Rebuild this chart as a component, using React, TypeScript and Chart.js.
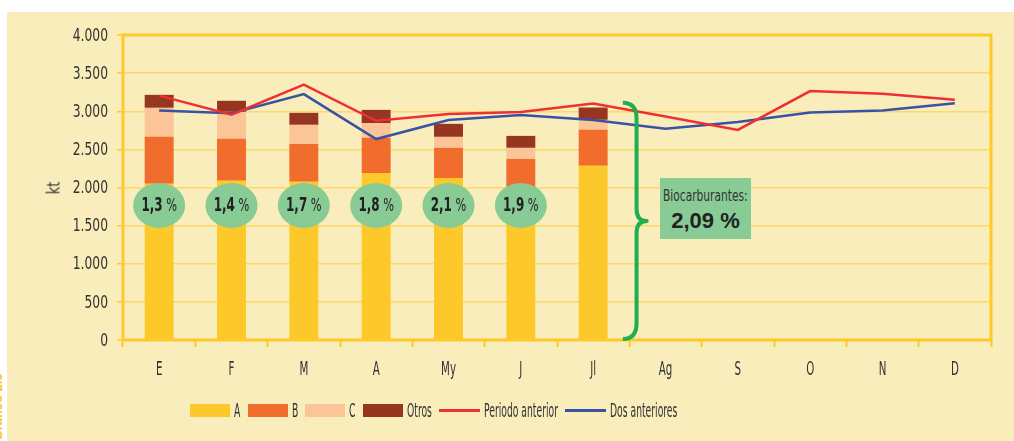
import React, { useEffect, useRef } from 'react';
import { Chart, registerables } from 'chart.js';

Chart.register(...registerables);

// ---------- data ----------
const months = ['E', 'F', 'M', 'A', 'My', 'J', 'Jl', 'Ag', 'S', 'O', 'N', 'D'];
const seriesA = [2050, 2090, 2075, 2190, 2125, 1980, 2285];
const seriesB = [614, 548, 497, 461, 395, 395, 471];
const seriesC = [381, 354, 250, 192, 144, 145, 131];
const seriesOtros = [170, 145, 157, 175, 171, 157, 162];
const periodoAnterior = [3205, 2955, 3350, 2875, 2965, 2990, 3100, 2930, 2755, 3265, 3230, 3150];
const dosAnteriores = [3010, 2975, 3225, 2635, 2885, 2950, 2885, 2770, 2860, 2985, 3010, 3105];
const biofuelShares = ['1,3', '1,4', '1,7', '1,8', '2,1', '1,9'];
const badgeValue = 1765;
const braceTopValue = 3110;
const yMin = 0;
const yMax = 4000;
const yStep = 500;
const yAxisTitle = 'kt';
const totalLabel = 'Biocarburantes:';
const totalShare = '2,09 %';

// ---------- styles ----------
const NARROW = "'DejaVu Sans Condensed', 'DejaVu Sans', sans-serif";
const colA = '#FDC92A';
const colB = '#F06D2D';
const colC = '#FCC597';
const colOtros = '#963520';
const colRed = '#EE3035';
const colBlue = '#3A52A3';
const frameCol = '#FFC92B';
const gridCol = '#FCD868';
const greenFill = '#88CB95';
const braceCol = '#1FAE50';
const textCol = '#333333';

const fmt = (v: number) => String(v).replace(/\B(?=(\d{3})+(?!\d))/g, '.');

const framePlugin = {
  id: 'frame',
  beforeDatasetsDraw(chart: any) {
    const { ctx, chartArea } = chart;
    const { left, top, right, bottom } = chartArea;
    ctx.save();
    ctx.strokeStyle = frameCol;
    ctx.lineWidth = 3;
    ctx.strokeRect(left, top, right - left, bottom - top);
    ctx.restore();
  },
};

const narrowText = (ctx: any, text: string, x: number, y: number, sx: number, font: string, align: string) => {
  ctx.save();
  ctx.translate(x, y);
  ctx.scale(sx, 1);
  ctx.font = font;
  ctx.textAlign = align;
  ctx.textBaseline = 'middle';
  ctx.fillText(text, 0, 0);
  ctx.restore();
};

const labelsPlugin = {
  id: 'narrowLabels',
  afterDraw(chart: any) {
    const { ctx, chartArea } = chart;
    const xs = chart.scales.x;
    const ys = chart.scales.y;
    ctx.save();
    ctx.fillStyle = textCol;
    ys.ticks.forEach((t: any) => {
      const y = ys.getPixelForValue(t.value);
      narrowText(ctx, fmt(t.value), chartArea.left - 15, y + 1, 0.76, `18px ${NARROW}`, 'right');
    });
    months.forEach((m, i) => {
      const x = xs.getPixelForValue(i);
      narrowText(ctx, m, x, chartArea.bottom + 30, 0.6, `19px ${NARROW}`, 'center');
    });
    ctx.restore();
  },
};

const annotPlugin = {
  id: 'annot',
  afterDatasetsDraw(chart: any) {
    const { ctx } = chart;
    const xs = chart.scales.x;
    const ys = chart.scales.y;
    ctx.save();
    // badges
    const cy = ys.getPixelForValue(badgeValue);
    const sx = 0.7;
    biofuelShares.forEach((s, i) => {
      const cx = xs.getPixelForValue(i);
      ctx.beginPath();
      ctx.ellipse(cx, cy, 26, 22.5, 0, 0, Math.PI * 2);
      ctx.fillStyle = greenFill;
      ctx.fill();
      ctx.fillStyle = '#222';
      const fb = `bold 19px ${NARROW}`;
      const fn = `18px ${NARROW}`;
      ctx.font = fb;
      const w1 = ctx.measureText(s).width * sx;
      ctx.font = fn;
      const w2 = ctx.measureText(' %').width * sx;
      const x0 = cx - (w1 + w2) / 2;
      narrowText(ctx, s, x0, cy + 1, sx, fb, 'left');
      narrowText(ctx, ' %', x0 + w1, cy + 1, sx, fn, 'left');
    });
    // brace
    const cw = xs.getPixelForValue(1) - xs.getPixelForValue(0);
    const base = xs.getPixelForValue(seriesA.length - 1);
    const x0 = base + 0.41 * cw;
    const xm = base + 0.6 * cw;
    const xt = base + 0.74 * cw;
    const yt = ys.getPixelForValue(braceTopValue);
    const yb = ys.getPixelForValue(0) - 1;
    const ym = (yt + yb) / 2;
    ctx.beginPath();
    ctx.moveTo(x0, yt);
    ctx.quadraticCurveTo(xm, yt, xm, yt + 16);
    ctx.lineTo(xm, ym - 12);
    ctx.quadraticCurveTo(xm, ym, xt, ym);
    ctx.quadraticCurveTo(xm, ym, xm, ym + 12);
    ctx.lineTo(xm, yb - 16);
    ctx.quadraticCurveTo(xm, yb, x0, yb);
    ctx.strokeStyle = braceCol;
    ctx.lineWidth = 4;
    ctx.lineJoin = 'round';
    ctx.stroke();
    ctx.restore();
  },
};

export default function App() {
  const ref = useRef<HTMLCanvasElement | null>(null);

  useEffect(() => {
    document.body.style.margin = '0';
    if (!ref.current) return;
    const chart = new Chart(ref.current, {
      type: 'bar',
      data: {
        labels: months,
        datasets: [
          { type: 'line', label: 'Periodo anterior', data: periodoAnterior, borderColor: colRed, backgroundColor: colRed, borderWidth: 2.5, pointRadius: 0, tension: 0, stack: 'l1', order: 0 } as any,
          { type: 'line', label: 'Dos anteriores', data: dosAnteriores, borderColor: colBlue, backgroundColor: colBlue, borderWidth: 2.5, pointRadius: 0, tension: 0, stack: 'l2', order: 0 } as any,
          { label: 'A', data: seriesA, backgroundColor: colA, stack: 's', order: 1 },
          { label: 'B', data: seriesB, backgroundColor: colB, stack: 's', order: 1 },
          { label: 'C', data: seriesC, backgroundColor: colC, stack: 's', order: 1 },
          { label: 'Otros', data: seriesOtros, backgroundColor: colOtros, stack: 's', order: 1 },
        ],
      },
      options: {
        responsive: false,
        animation: false,
        events: [],
        layout: { padding: { top: 23, right: 23, left: 0, bottom: 0 } },
        datasets: { bar: { barPercentage: 0.4, categoryPercentage: 1 } },
        plugins: { legend: { display: false }, tooltip: { enabled: false } },
        scales: {
          x: {
            stacked: true,
            border: { display: false },
            grid: { drawOnChartArea: false, drawTicks: true, tickLength: 7, tickColor: frameCol, tickWidth: 2, offset: true },
            ticks: { display: false },
            afterFit: (s: any) => { s.height = 101; },
          },
          y: {
            stacked: true,
            min: yMin,
            max: yMax,
            border: { display: false },
            grid: { color: gridCol, lineWidth: 1.5, tickLength: 6, tickColor: frameCol, tickWidth: 1.5 },
            ticks: { stepSize: yStep, display: false },
            afterFit: (s: any) => { s.width = 116; },
          },
        },
      },
      plugins: [framePlugin, annotPlugin, labelsPlugin],
    });
    return () => chart.destroy();
  }, []);

  const legendText: React.CSSProperties = {
    fontFamily: NARROW,
    fontSize: 19,
    color: textCol,
    display: 'inline-block',
    transform: 'scaleX(0.54)',
    transformOrigin: 'left center',
    whiteSpace: 'nowrap',
    marginLeft: 4,
    lineHeight: '13px',
    flexShrink: 0,
  };
  const boxItems = [
    { label: 'A', color: colA, w: 58 },
    { label: 'B', color: colB, w: 57 },
    { label: 'C', color: colC, w: 58 },
    { label: 'Otros', color: colOtros, w: 76 },
  ];
  const lineItems = [
    { label: 'Periodo anterior', color: colRed, w: 126 },
    { label: 'Dos anteriores', color: colBlue, w: 110 },
  ];

  return (
    <div style={{ position: 'absolute', left: 0, top: 0, width: 1014, height: 441, background: '#fff', overflow: 'hidden' }}>
      <div style={{ position: 'absolute', left: 7, top: 12, width: 1007, height: 429, background: '#F9EDBC' }}>
        <canvas ref={ref} width={1007} height={429} style={{ position: 'absolute', left: 0, top: 0, width: 1007, height: 429 }} />
      </div>
      <div style={{ position: 'absolute', left: 53, top: 188, transform: 'translate(-50%, -50%) rotate(-90deg) scaleX(0.8)', fontFamily: NARROW, fontSize: 18, color: textCol }}>{yAxisTitle}</div>
      <div style={{ position: 'absolute', left: -3, top: 407, transform: 'translate(-50%, -50%) rotate(-90deg)', fontFamily: "'Liberation Sans', sans-serif", fontWeight: 'bold', fontSize: 13, color: '#F6C21C', whiteSpace: 'nowrap' }}>Gráfico 2.6</div>
      <div style={{ position: 'absolute', left: 660, top: 178, width: 91, height: 61, background: greenFill, overflow: 'hidden' }}>
        <div style={{ fontFamily: NARROW, fontSize: 16, color: textCol, marginTop: 9, lineHeight: '17px', whiteSpace: 'nowrap', transform: 'scaleX(0.74)', transformOrigin: 'left center', marginLeft: 3 }}>{totalLabel}</div>
        <div style={{ fontFamily: "'Liberation Sans', Arial, sans-serif", fontWeight: 'bold', fontSize: 22, color: '#222', lineHeight: '24px', marginTop: 5, textAlign: 'center' }}>{totalShare}</div>
      </div>
      <div style={{ position: 'absolute', left: 190, top: 404, height: 13, display: 'flex', alignItems: 'center' }}>
        {boxItems.map((it) => (
          <div key={it.label} style={{ width: it.w, flexShrink: 0, display: 'flex', alignItems: 'center', height: 13 }}>
            <span style={{ width: 40, height: 13, background: it.color, display: 'inline-block', flexShrink: 0 }} />
            <span style={legendText}>{it.label}</span>
          </div>
        ))}
        {lineItems.map((it) => (
          <div key={it.label} style={{ width: it.w, flexShrink: 0, display: 'flex', alignItems: 'center', height: 13 }}>
            <span style={{ width: 41, height: 3, background: it.color, display: 'inline-block', flexShrink: 0 }} />
            <span style={legendText}>{it.label}</span>
          </div>
        ))}
      </div>
    </div>
  );
}
